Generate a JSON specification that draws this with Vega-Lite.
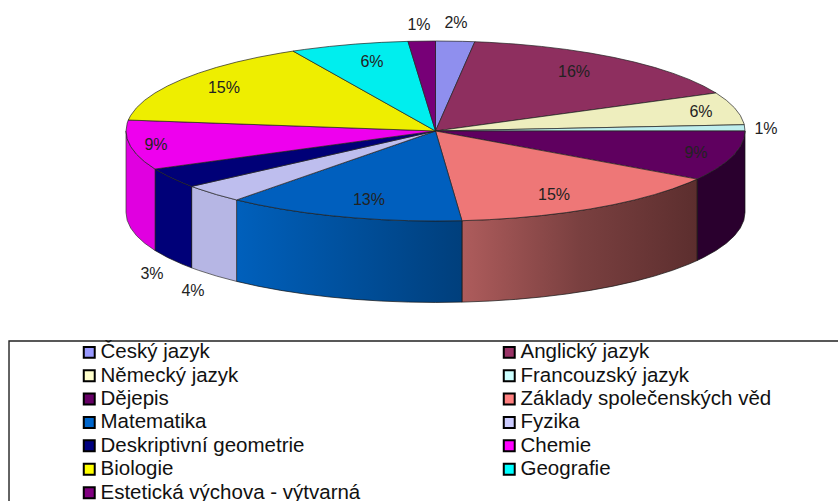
{"$schema":"https://vega.github.io/schema/vega-lite/v6.json","width":838,"height":501,"padding":0,"autosize":{"type":"none"},"background":"white","view":{"stroke":null},
"datasets":{
"subjects":[{"s":"Český jazyk","v":2},{"s":"Anglický jazyk","v":16},{"s":"Německý jazyk","v":6},{"s":"Francouzský jazyk","v":1},{"s":"Dějepis","v":9},{"s":"Základy společenských věd","v":15},{"s":"Matematika","v":13},{"s":"Fyzika","v":4},{"s":"Deskriptivní geometrie","v":3},{"s":"Chemie","v":9},{"s":"Biologie","v":15},{"s":"Geografie","v":6},{"s":"Estetická výchova - výtvarná","v":1}],
"labels":[{"t":"1%","x":-0.0533,"y":1.178},{"t":"2%","x":0.0662,"y":1.203},{"t":"16%","x":0.4475,"y":0.659},{"t":"6%","x":0.8578,"y":0.2144},{"t":"1%","x":1.0679,"y":0.022},{"t":"9%","x":0.8417,"y":-0.2444},{"t":"15%","x":0.3829,"y":-0.7111},{"t":"13%","x":-0.2149,"y":-0.7667},{"t":"4%","x":-0.7835,"y":-1.7778},{"t":"3%","x":-0.916,"y":-1.5889},{"t":"9%","x":-0.9031,"y":-0.1556},{"t":"15%","x":-0.6834,"y":0.4778},{"t":"6%","x":-0.2052,"y":0.7667}],
"frame":[{"x":-1.378,"x2":1.5,"y":-2.333,"y2":-4.5}],
"walls":[
{"s":"D","x":1,"y":0,"b":-0.905},{"s":"D","x":0.9962,"y":-0.0872,"b":-0.9922},{"s":"D","x":0.9848,"y":-0.1736,"b":-1.0786},{"s":"D","x":0.9659,"y":-0.2588,"b":-1.1638},{"s":"D","x":0.9397,"y":-0.342,"b":-1.247},{"s":"D","x":0.9063,"y":-0.4226,"b":-1.3276},{"s":"D","x":0.866,"y":-0.5,"b":-1.405},{"s":"D","x":0.8453,"y":-0.5344,"b":-1.4394},
{"s":"Z","x":0.8453,"y":-0.5344,"b":-1.4394},{"s":"Z","x":0.8192,"y":-0.5736,"b":-1.4786},{"s":"Z","x":0.766,"y":-0.6428,"b":-1.5478},{"s":"Z","x":0.7071,"y":-0.7071,"b":-1.6121},{"s":"Z","x":0.6428,"y":-0.766,"b":-1.671},{"s":"Z","x":0.5736,"y":-0.8192,"b":-1.7242},{"s":"Z","x":0.5,"y":-0.866,"b":-1.771},{"s":"Z","x":0.4226,"y":-0.9063,"b":-1.8113},{"s":"Z","x":0.342,"y":-0.9397,"b":-1.8447},{"s":"Z","x":0.2588,"y":-0.9659,"b":-1.8709},{"s":"Z","x":0.1736,"y":-0.9848,"b":-1.8898},{"s":"Z","x":0.0872,"y":-0.9962,"b":-1.9012},{"s":"Z","x":0.0854,"y":-0.9963,"b":-1.9013},
{"s":"M","x":0.0854,"y":-0.9963,"b":-1.9013},{"s":"M","x":0,"y":-1,"b":-1.905},{"s":"M","x":-0.0872,"y":-0.9962,"b":-1.9012},{"s":"M","x":-0.1736,"y":-0.9848,"b":-1.8898},{"s":"M","x":-0.2588,"y":-0.9659,"b":-1.8709},{"s":"M","x":-0.342,"y":-0.9397,"b":-1.8447},{"s":"M","x":-0.4226,"y":-0.9063,"b":-1.8113},{"s":"M","x":-0.5,"y":-0.866,"b":-1.771},{"s":"M","x":-0.5736,"y":-0.8192,"b":-1.7242},{"s":"M","x":-0.6428,"y":-0.766,"b":-1.671},
{"s":"F","x":-0.6428,"y":-0.766,"b":-1.671},{"s":"F","x":-0.7071,"y":-0.7071,"b":-1.6121},{"s":"F","x":-0.766,"y":-0.6428,"b":-1.5478},{"s":"F","x":-0.788,"y":-0.6157,"b":-1.5207},
{"s":"G","x":-0.788,"y":-0.6157,"b":-1.5207},{"s":"G","x":-0.8192,"y":-0.5736,"b":-1.4786},{"s":"G","x":-0.866,"y":-0.5,"b":-1.405},{"s":"G","x":-0.9063,"y":-0.4226,"b":-1.3276},
{"s":"C","x":-0.9063,"y":-0.4226,"b":-1.3276},{"s":"C","x":-0.9397,"y":-0.342,"b":-1.247},{"s":"C","x":-0.9659,"y":-0.2588,"b":-1.1638},{"s":"C","x":-0.9848,"y":-0.1736,"b":-1.0786},{"s":"C","x":-0.9962,"y":-0.0872,"b":-0.9922},{"s":"C","x":-1,"y":0,"b":-0.905}],
"top":[
{"s":"Český jazyk","i":0,"x":0,"y":0},{"s":"Český jazyk","i":1,"x":0,"y":1},{"s":"Český jazyk","i":2,"x":0.0872,"y":0.9962},{"s":"Český jazyk","i":3,"x":0.1271,"y":0.9919},{"s":"Český jazyk","i":4,"x":0,"y":0},
{"s":"Anglický jazyk","i":0,"x":0,"y":0},{"s":"Anglický jazyk","i":1,"x":0.1271,"y":0.9919},{"s":"Anglický jazyk","i":2,"x":0.1736,"y":0.9848},{"s":"Anglický jazyk","i":3,"x":0.2588,"y":0.9659},{"s":"Anglický jazyk","i":4,"x":0.342,"y":0.9397},{"s":"Anglický jazyk","i":5,"x":0.4226,"y":0.9063},{"s":"Anglický jazyk","i":6,"x":0.5,"y":0.866},{"s":"Anglický jazyk","i":7,"x":0.5736,"y":0.8192},{"s":"Anglický jazyk","i":8,"x":0.6428,"y":0.766},{"s":"Anglický jazyk","i":9,"x":0.7071,"y":0.7071},{"s":"Anglický jazyk","i":10,"x":0.766,"y":0.6428},{"s":"Anglický jazyk","i":11,"x":0.8192,"y":0.5736},{"s":"Anglický jazyk","i":12,"x":0.866,"y":0.5},{"s":"Anglický jazyk","i":13,"x":0.9063,"y":0.4226},{"s":"Anglický jazyk","i":14,"x":0,"y":0},
{"s":"Německý jazyk","i":0,"x":0,"y":0},{"s":"Německý jazyk","i":1,"x":0.9063,"y":0.4226},{"s":"Německý jazyk","i":2,"x":0.9397,"y":0.342},{"s":"Německý jazyk","i":3,"x":0.9659,"y":0.2588},{"s":"Německý jazyk","i":4,"x":0.9848,"y":0.1736},{"s":"Německý jazyk","i":5,"x":0.9962,"y":0.0872},{"s":"Německý jazyk","i":6,"x":0.9976,"y":0.0698},{"s":"Německý jazyk","i":7,"x":0,"y":0},
{"s":"Francouzský jazyk","i":0,"x":0,"y":0},{"s":"Francouzský jazyk","i":1,"x":0.9976,"y":0.0698},{"s":"Francouzský jazyk","i":2,"x":1,"y":0},{"s":"Francouzský jazyk","i":3,"x":0,"y":0},
{"s":"Dějepis","i":0,"x":0,"y":0},{"s":"Dějepis","i":1,"x":1,"y":0},{"s":"Dějepis","i":2,"x":0.9962,"y":-0.0872},{"s":"Dějepis","i":3,"x":0.9848,"y":-0.1736},{"s":"Dějepis","i":4,"x":0.9659,"y":-0.2588},{"s":"Dějepis","i":5,"x":0.9397,"y":-0.342},{"s":"Dějepis","i":6,"x":0.9063,"y":-0.4226},{"s":"Dějepis","i":7,"x":0.866,"y":-0.5},{"s":"Dějepis","i":8,"x":0.8453,"y":-0.5344},{"s":"Dějepis","i":9,"x":0,"y":0},
{"s":"Základy společenských věd","i":0,"x":0,"y":0},{"s":"Základy společenských věd","i":1,"x":0.8453,"y":-0.5344},{"s":"Základy společenských věd","i":2,"x":0.8192,"y":-0.5736},{"s":"Základy společenských věd","i":3,"x":0.766,"y":-0.6428},{"s":"Základy společenských věd","i":4,"x":0.7071,"y":-0.7071},{"s":"Základy společenských věd","i":5,"x":0.6428,"y":-0.766},{"s":"Základy společenských věd","i":6,"x":0.5736,"y":-0.8192},{"s":"Základy společenských věd","i":7,"x":0.5,"y":-0.866},{"s":"Základy společenských věd","i":8,"x":0.4226,"y":-0.9063},{"s":"Základy společenských věd","i":9,"x":0.342,"y":-0.9397},{"s":"Základy společenských věd","i":10,"x":0.2588,"y":-0.9659},{"s":"Základy společenských věd","i":11,"x":0.1736,"y":-0.9848},{"s":"Základy společenských věd","i":12,"x":0.0872,"y":-0.9962},{"s":"Základy společenských věd","i":13,"x":0.0854,"y":-0.9963},{"s":"Základy společenských věd","i":14,"x":0,"y":0},
{"s":"Matematika","i":0,"x":0,"y":0},{"s":"Matematika","i":1,"x":0.0854,"y":-0.9963},{"s":"Matematika","i":2,"x":0,"y":-1},{"s":"Matematika","i":3,"x":-0.0872,"y":-0.9962},{"s":"Matematika","i":4,"x":-0.1736,"y":-0.9848},{"s":"Matematika","i":5,"x":-0.2588,"y":-0.9659},{"s":"Matematika","i":6,"x":-0.342,"y":-0.9397},{"s":"Matematika","i":7,"x":-0.4226,"y":-0.9063},{"s":"Matematika","i":8,"x":-0.5,"y":-0.866},{"s":"Matematika","i":9,"x":-0.5736,"y":-0.8192},{"s":"Matematika","i":10,"x":-0.6428,"y":-0.766},{"s":"Matematika","i":11,"x":0,"y":0},
{"s":"Fyzika","i":0,"x":0,"y":0},{"s":"Fyzika","i":1,"x":-0.6428,"y":-0.766},{"s":"Fyzika","i":2,"x":-0.7071,"y":-0.7071},{"s":"Fyzika","i":3,"x":-0.766,"y":-0.6428},{"s":"Fyzika","i":4,"x":-0.788,"y":-0.6157},{"s":"Fyzika","i":5,"x":0,"y":0},
{"s":"Deskriptivní geometrie","i":0,"x":0,"y":0},{"s":"Deskriptivní geometrie","i":1,"x":-0.788,"y":-0.6157},{"s":"Deskriptivní geometrie","i":2,"x":-0.8192,"y":-0.5736},{"s":"Deskriptivní geometrie","i":3,"x":-0.866,"y":-0.5},{"s":"Deskriptivní geometrie","i":4,"x":-0.9063,"y":-0.4226},{"s":"Deskriptivní geometrie","i":5,"x":0,"y":0},
{"s":"Chemie","i":0,"x":0,"y":0},{"s":"Chemie","i":1,"x":-0.9063,"y":-0.4226},{"s":"Chemie","i":2,"x":-0.9397,"y":-0.342},{"s":"Chemie","i":3,"x":-0.9659,"y":-0.2588},{"s":"Chemie","i":4,"x":-0.9848,"y":-0.1736},{"s":"Chemie","i":5,"x":-0.9962,"y":-0.0872},{"s":"Chemie","i":6,"x":-1,"y":0},{"s":"Chemie","i":7,"x":-0.9962,"y":0.0872},{"s":"Chemie","i":8,"x":-0.9925,"y":0.1219},{"s":"Chemie","i":9,"x":0,"y":0},
{"s":"Biologie","i":0,"x":0,"y":0},{"s":"Biologie","i":1,"x":-0.9925,"y":0.1219},{"s":"Biologie","i":2,"x":-0.9848,"y":0.1736},{"s":"Biologie","i":3,"x":-0.9659,"y":0.2588},{"s":"Biologie","i":4,"x":-0.9397,"y":0.342},{"s":"Biologie","i":5,"x":-0.9063,"y":0.4226},{"s":"Biologie","i":6,"x":-0.866,"y":0.5},{"s":"Biologie","i":7,"x":-0.8192,"y":0.5736},{"s":"Biologie","i":8,"x":-0.766,"y":0.6428},{"s":"Biologie","i":9,"x":-0.7071,"y":0.7071},{"s":"Biologie","i":10,"x":-0.6428,"y":0.766},{"s":"Biologie","i":11,"x":-0.5736,"y":0.8192},{"s":"Biologie","i":12,"x":-0.5,"y":0.866},{"s":"Biologie","i":13,"x":-0.4602,"y":0.8878},{"s":"Biologie","i":14,"x":0,"y":0},
{"s":"Geografie","i":0,"x":0,"y":0},{"s":"Geografie","i":1,"x":-0.4602,"y":0.8878},{"s":"Geografie","i":2,"x":-0.4226,"y":0.9063},{"s":"Geografie","i":3,"x":-0.342,"y":0.9397},{"s":"Geografie","i":4,"x":-0.2588,"y":0.9659},{"s":"Geografie","i":5,"x":-0.1736,"y":0.9848},{"s":"Geografie","i":6,"x":-0.0889,"y":0.996},{"s":"Geografie","i":7,"x":0,"y":0},
{"s":"Estetická výchova - výtvarná","i":0,"x":0,"y":0},{"s":"Estetická výchova - výtvarná","i":1,"x":-0.0889,"y":0.996},{"s":"Estetická výchova - výtvarná","i":2,"x":0,"y":1},{"s":"Estetická výchova - výtvarná","i":3,"x":0,"y":0}]
},
"layer":[
{"data":{"name":"frame"},"mark":{"type":"rect","fillOpacity":0,"stroke":"#222222","strokeWidth":1.4,"clip":false},"encoding":{"x":{"field":"x","type":"quantitative","axis":null,"scale":{"domain":[-1.40711,1.30048],"nice":false,"zero":false}},"x2":{"field":"x2"},"y":{"field":"y","type":"quantitative","axis":null,"scale":{"domain":[-4.11111,1.45556],"nice":false,"zero":false}},"y2":{"field":"y2"}}},
{"data":{"name":"walls"},"transform":[{"filter":"datum.s==='D'"}],"mark":{"type":"area","color":"#2A002E","stroke":"#111111","strokeWidth":0.7},"encoding":{"x":{"field":"x","type":"quantitative"},"y":{"field":"y","type":"quantitative"},"y2":{"field":"b"}}},
{"data":{"name":"walls"},"transform":[{"filter":"datum.s==='Z'"}],"mark":{"type":"area","color":{"gradient":"linear","x1":0,"y1":0,"x2":1,"y2":0,"stops":[{"offset":0,"color":"#AE5C5C"},{"offset":0.5,"color":"#7A4040"},{"offset":1,"color":"#5C2E2E"}]},"stroke":"#111111","strokeWidth":0.7},"encoding":{"x":{"field":"x","type":"quantitative"},"y":{"field":"y","type":"quantitative"},"y2":{"field":"b"}}},
{"data":{"name":"walls"},"transform":[{"filter":"datum.s==='M'"}],"mark":{"type":"area","color":{"gradient":"linear","x1":0,"y1":0,"x2":1,"y2":0,"stops":[{"offset":0,"color":"#0060BC"},{"offset":1,"color":"#003F7C"}]},"stroke":"#111111","strokeWidth":0.7},"encoding":{"x":{"field":"x","type":"quantitative"},"y":{"field":"y","type":"quantitative"},"y2":{"field":"b"}}},
{"data":{"name":"walls"},"transform":[{"filter":"datum.s==='F'"}],"mark":{"type":"area","color":"#B6B6E4","stroke":"#333333","strokeWidth":0.7},"encoding":{"x":{"field":"x","type":"quantitative"},"y":{"field":"y","type":"quantitative"},"y2":{"field":"b"}}},
{"data":{"name":"walls"},"transform":[{"filter":"datum.s==='G'"}],"mark":{"type":"area","color":"#000078","stroke":"#111111","strokeWidth":0.7},"encoding":{"x":{"field":"x","type":"quantitative"},"y":{"field":"y","type":"quantitative"},"y2":{"field":"b"}}},
{"data":{"name":"walls"},"transform":[{"filter":"datum.s==='C'"}],"mark":{"type":"area","color":"#E000E0","stroke":"#333333","strokeWidth":0.7},"encoding":{"x":{"field":"x","type":"quantitative"},"y":{"field":"y","type":"quantitative"},"y2":{"field":"b"}}},
{"data":{"name":"top"},"mark":{"type":"line","stroke":"#222222","strokeWidth":0.7},"encoding":{"x":{"field":"x","type":"quantitative"},"y":{"field":"y","type":"quantitative"},"order":{"field":"i","type":"ordinal"},"detail":{"field":"s"},"fill":{"field":"s","type":"nominal","legend":null,"scale":{"domain":["Český jazyk","Anglický jazyk","Německý jazyk","Francouzský jazyk","Dějepis","Základy společenských věd","Matematika","Fyzika","Deskriptivní geometrie","Chemie","Biologie","Geografie","Estetická výchova - výtvarná"],"range":["#8F8FEE","#8E2F5F","#EEEEBE","#BEEEEE","#5F005F","#EE7777","#005FBE","#BEBEEE","#000077","#EE00EE","#EEEE00","#00EEEE","#770077"]}}}},
{"data":{"name":"labels"},"mark":{"type":"text","font":"Liberation Sans","fontSize":16,"color":"#222222","baseline":"middle","align":"center"},"encoding":{"x":{"field":"x","type":"quantitative"},"y":{"field":"y","type":"quantitative"},"text":{"field":"t"}}},
{"data":{"name":"subjects"},"mark":{"type":"point","filled":true,"shape":"square","size":0},"encoding":{"color":{"field":"s","type":"nominal","scale":{"domain":["Český jazyk","Německý jazyk","Dějepis","Matematika","Deskriptivní geometrie","Biologie","Estetická výchova - výtvarná","Anglický jazyk","Francouzský jazyk","Základy společenských věd","Fyzika","Chemie","Geografie"],"range":["#9999FF","#FFFFCC","#660066","#0066CC","#000080","#FFFF00","#800080","#993366","#CCFFFF","#FF8080","#CCCCFF","#FF00FF","#00FFFF"]},"legend":{"title":null,"orient":"none","legendX":79,"legendY":342,"columns":2,"columnPadding":138,"rowPadding":2.4,"symbolType":"square","symbolSize":120,"symbolOpacity":1,"symbolStrokeColor":"#000000","symbolStrokeWidth":2,"labelFont":"Liberation Sans","labelFontSize":20.5,"labelColor":"#111111","labelLimit":400,"labelOffset":1,"padding":0}}}}
]}
